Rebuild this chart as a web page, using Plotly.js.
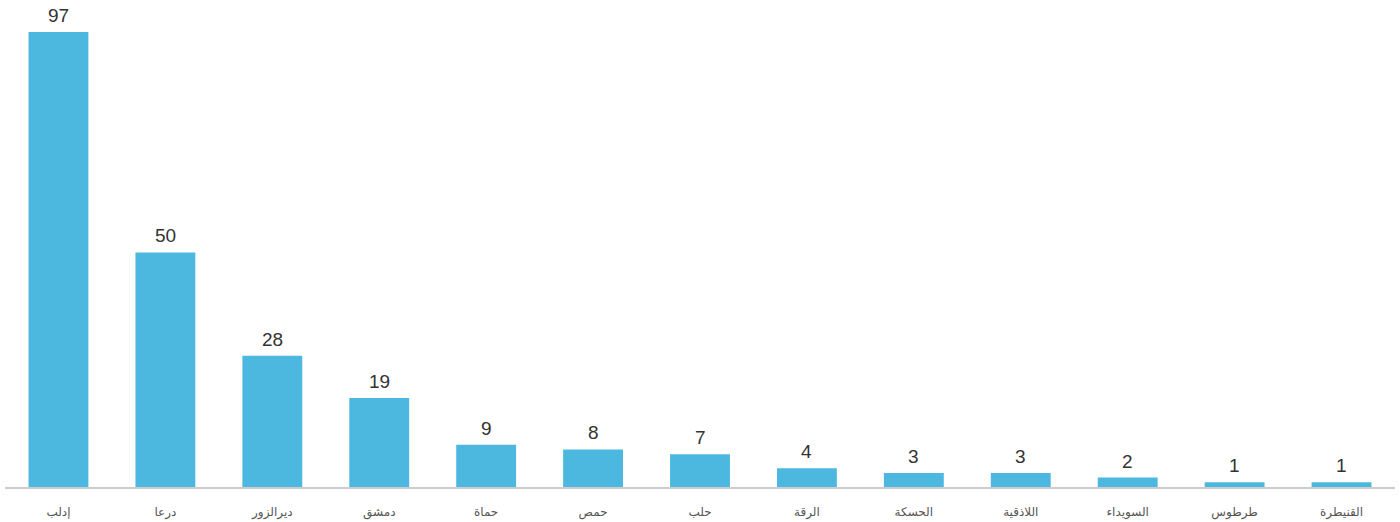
<!DOCTYPE html>
<html>
<head>
<meta charset="utf-8">
<script src="https://cdn.plot.ly/plotly-3.0.1.min.js"></script>
<style>html,body{margin:0;padding:0;background:#fff;}#chart{width:1400px;height:522px;}</style>
</head>
<body>
<div id="chart"></div>
<script>
const categories = ["إدلب", "درعا", "ديرالزور", "دمشق", "حماة", "حمص", "حلب", "الرقة", "الحسكة", "اللاذقية", "السويداء", "طرطوس", "القنيطرة"];
const values = [97, 50, 28, 19, 9, 8, 7, 4, 3, 3, 2, 1, 1];

const trace = {
  type: 'bar',
  x: categories,
  y: values,
  cliponaxis: false,
  marker: {color: '#4db8df'},
  hoverinfo: 'x+y'
};

const annotations = categories.map((c, i) => ({
  x: c,
  y: values[i],
  xref: 'x',
  yref: 'y',
  text: String(values[i]),
  showarrow: false,
  yanchor: 'bottom',
  yshift: 4,
  font: {family: 'Liberation Sans, Arial, sans-serif', size: 19, color: '#333333'}
}));

const layout = {
  width: 1400,
  height: 522,
  margin: {l: 5, r: 5, t: 32, b: 35},
  paper_bgcolor: '#ffffff',
  plot_bgcolor: '#ffffff',
  bargap: 0.44,
  showlegend: false,
  annotations: annotations,
  xaxis: {
    type: 'category',
    showline: true,
    linecolor: '#cccccc',
    linewidth: 2,
    showgrid: false,
    zeroline: false,
    ticks: '',
    ticklabelstandoff: 13,
    tickfont: {family: 'DejaVu Serif, DejaVu Sans, serif', size: 12, color: '#555555'}
  },
  yaxis: {
    range: [0, 97],
    visible: false,
    showgrid: false,
    zeroline: false
  }
};

Plotly.newPlot('chart', [trace], layout, {displayModeBar: false});
</script>
</body>
</html>
